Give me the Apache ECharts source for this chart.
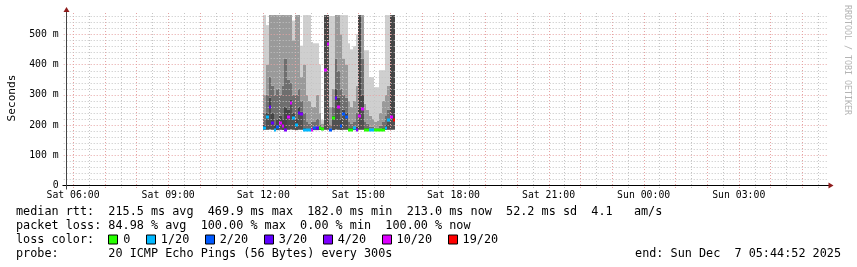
<!DOCTYPE html>
<html><head><meta charset="utf-8">
<script src="https://cdn.jsdelivr.net/npm/echarts@6/dist/echarts.min.js"></script>
<style>html,body{margin:0;padding:0;background:#fff}#c{width:857px;height:267px}</style>
</head><body><div id="c"></div>
<script>
const MONO = '"DejaVu Sans Mono", monospace';
// x axis in hours since Sat 00:00
const xMin = 5.8, xMax = 29.8;
const yMax = 570;
const xTickHours = [6, 9, 12, 15, 18, 21, 24, 27];
const xTickLabels = ['Sat 06:00', 'Sat 09:00', 'Sat 12:00', 'Sat 15:00', 'Sat 18:00', 'Sat 21:00', 'Sun 00:00', 'Sun 03:00'];
const yTickValues = [0, 100, 200, 300, 400, 500];
const yTickLabels = ['0', '100 m', '200 m', '300 m', '400 m', '500 m'];

// 5-minute slots (end time), values in ms
const slotEnd = ['12:05','12:10','12:15','12:20','12:25','12:30','12:35','12:40','12:45','12:50',
  '12:55','13:00','13:05','13:10','13:15','13:20','13:25','13:30','13:35','13:40',
  '13:45','13:50','13:55','14:00','14:05','14:10','14:15','14:20','14:25','14:30',
  '14:35','14:40','14:45','14:50','14:55','15:00','15:05','15:10','15:15','15:20',
  '15:25','15:30','15:35','15:40','15:45','15:50','15:55','16:00','16:05','16:10'];
const pingMin = [184,184,185,184,182,183,184,183,182,184, 185,184,183,184,184,182,182,182,182,183,
  183,183,183,184,184,182,183,185,184,183, 184,184,182,182,183,182,184,184,182,182,
  182,182,182,182,182,182,183,184,184,184];
const median = [189,227,260,207,183,194,207,196,185,225, 271,222,200,240,236,183,183,183,185,189,
  189,189,186,381,469,185,222,288,260,196, 236,227,185,185,189,185,229,252,185,185,
  185,185,185,185,183,184,189,216,227,216];
const p60 = [200,240,290,240,200,220,230,220,260,250, 285,240,220,260,245,190,186,186,190,195,
  195,192,188,563,563,188,230,320,290,220, 250,240,190,190,195,195,563,300,190,190,
  188,188,188,188,188,190,200,210,563,563];
const p75 = [240,300,360,330,300,320,300,330,420,350, 340,300,300,320,280,240,210,205,210,210,
  220,200,195,563,563,200,260,420,380,320, 300,290,210,205,210,240,563,420,210,205,
  195,195,192,192,198,210,230,250,563,563];
const p90 = [300,400,563,563,563,563,563,563,563,563, 563,480,563,563,360,400,300,280,260,260,
  300,240,205,563,563,260,320,563,563,500, 420,400,280,260,280,330,563,563,270,250,
  230,220,210,215,240,280,300,330,563,563];
const pingMax = [563,530,563,563,563,563,563,563,563,563, 563,545,563,563,462,563,563,563,474,470,
  470,400,216,563,563,560,560,563,563,563, 563,563,470,450,460,500,563,563,447,447,
  358,358,325,325,381,381,563,563,563,563];
const lossCount = [1,1,3,3,1,2,10,10,4,10, 10,1,1,3,4,1,1,1,10,2, 3,0,0,10,10,2,0,3,10,2,
  2,2,0,0,1,4,10,10,0,0, 1,1,0,0,0,0,1,1,10,19];

const lossLevels = [0, 1, 2, 3, 4, 10, 19];
const lossLabels = ['0', '1/20', '2/20', '3/20', '4/20', '10/20', '19/20'];
const lossColors = ['#26ff00', '#00b8ff', '#0059ff', '#5e00ff', '#7e00ff', '#dd00ff', '#ff0000'];
const smokeShades = ['#505050', '#464646', '#6e6e6e', '#9a9a9a', '#cfcfcf'];

const legendLines = [
  'median rtt:  215.5 ms avg  469.9 ms max  182.0 ms min  213.0 ms now  52.2 ms sd  4.1   am/s',
  'packet loss: 84.98 % avg  100.00 % max  0.00 % min  100.00 % now',
  'loss color:',
  'probe:       20 ICMP Echo Pings (56 Bytes) every 300s'
];
const endText = 'end: Sun Dec  7 05:44:52 2025';

function toHours(s) { const p = s.split(':'); return +p[0] + (+p[1]) / 60; }
function lossColor(n) { let c = lossColors[0]; lossLevels.forEach((l, i) => { if (n >= l) c = lossColors[i]; }); return c; }

const smokeData = slotEnd.map((s, i) => [toHours(s), pingMin[i], median[i], p60[i], p75[i], p90[i], pingMax[i]]);
const medianData = slotEnd.map((s, i) => [toHours(s), median[i], lossCount[i]]);

const vGrid = [];
for (let h = Math.ceil(xMin * 2) / 2; h < xMax; h += 0.5) vGrid.push([h, 0, Number.isInteger(h) ? 1 : 0]);
const hGrid = [];
for (let v = 20; v < yMax; v += 20) hGrid.push([xMin, v, v % 100 === 0 ? 1 : 0]);

const MAJOR = '#e6a3a3', MINOR = '#c4c4c4';

function slotX(api, t) {
  return [Math.round(api.coord([t - 1 / 12, 0])[0]), Math.round(api.coord([t, 0])[0])];
}

const chart = echarts.init(document.getElementById('c'), null, { renderer: 'canvas' });
chart.setOption({
  animation: false,
  backgroundColor: '#ffffff',
  grid: { left: 66.7, right: 29.5, top: 13, bottom: 81.5 },
  xAxis: {
    type: 'value', min: xMin, max: xMax,
    axisLine: { show: false }, axisTick: { show: false }, splitLine: { show: false },
    axisLabel: {
      customValues: xTickHours, margin: 5,
      fontFamily: MONO, fontSize: 9.8, color: '#000',
      formatter: v => { const i = xTickHours.indexOf(v); return i >= 0 ? xTickLabels[i] : ''; }
    }
  },
  yAxis: {
    type: 'value', min: 0, max: yMax, interval: 100,
    axisLine: { show: false }, axisTick: { show: false }, splitLine: { show: false },
    axisLabel: {
      margin: 8, fontFamily: MONO, fontSize: 9.8, color: '#000',
      formatter: v => { const i = yTickValues.indexOf(v); return i >= 0 ? yTickLabels[i] : ''; }
    }
  },
  series: [
    {
      type: 'custom', z: 1, data: smokeData, encode: { x: 0, y: 2 },
      renderItem: (params, api) => {
        const t = api.value(0);
        const [x0, x1] = slotX(api, t);
        const lv = [1, 2, 3, 4, 5, 6].map(k => api.value(k));
        const children = [];
        for (let k = 0; k < 5; k++) {
          if (lv[k + 1] > lv[k]) {
            const yt = api.coord([t, lv[k + 1]])[1], yb = api.coord([t, lv[k]])[1];
            children.push({ type: 'rect', shape: { x: x0, y: yt, width: x1 - x0, height: yb - yt },
              style: { fill: smokeShades[k] } });
          }
        }
        return { type: 'group', children };
      }
    },
    {
      type: 'custom', z: 2, data: vGrid, encode: { x: 0, y: 1 }, silent: true,
      renderItem: (params, api) => {
        const cs = params.coordSys;
        const x = Math.round(api.coord([api.value(0), 0])[0]) + 0.5;
        return { type: 'line', shape: { x1: x, y1: cs.y, x2: x, y2: cs.y + cs.height + 3 },
          style: { stroke: api.value(2) ? MAJOR : MINOR, lineWidth: 1, lineDash: [1, 2] } };
      }
    },
    {
      type: 'custom', z: 2, data: hGrid, encode: { x: 0, y: 1 }, silent: true,
      renderItem: (params, api) => {
        const cs = params.coordSys;
        const y = Math.round(api.coord([xMin, api.value(1)])[1]) + 0.5;
        return { type: 'line', shape: { x1: cs.x - 3, y1: y, x2: cs.x + cs.width, y2: y },
          style: { stroke: api.value(2) ? MAJOR : MINOR, lineWidth: 1, lineDash: [1, 2] } };
      }
    },
    {
      type: 'custom', z: 3, data: medianData, encode: { x: 0, y: 1 },
      renderItem: (params, api) => {
        const t = api.value(0);
        const [x0, x1] = slotX(api, t);
        const y = api.coord([t, api.value(1)])[1];
        return { type: 'rect', shape: { x: x0, y: Math.round(y) - 1.5, width: x1 - x0, height: 3 },
          style: { fill: lossColor(api.value(2)) } };
      }
    }
  ]
});

// decorations: axis lines with arrows, texts
const pO = chart.convertToPixel({ gridIndex: 0 }, [xMin, 0]);
const pE = chart.convertToPixel({ gridIndex: 0 }, [xMax, yMax]);
const ax = Math.floor(pO[0]) + 0.5, ay = Math.floor(pO[1]) + 0.5;
const ARROW = '#8e1b1b';
const g = [
  { type: 'line', shape: { x1: ax - 4, y1: ay, x2: pE[0] + 2, y2: ay }, style: { stroke: '#000', lineWidth: 1 }, z: 10 },
  { type: 'line', shape: { x1: ax, y1: ay + 4, x2: ax, y2: pE[1] - 2 }, style: { stroke: '#444', lineWidth: 1 }, z: 10 },
  { type: 'polygon', shape: { points: [[pE[0] + 1, ay - 3], [pE[0] + 6, ay], [pE[0] + 1, ay + 3]] }, style: { fill: ARROW }, z: 11 },
  { type: 'polygon', shape: { points: [[ax - 3, pE[1] - 1], [ax, pE[1] - 6], [ax + 3, pE[1] - 1]] }, style: { fill: ARROW }, z: 11 },
  { type: 'text', x: 12, y: 98, rotation: Math.PI / 2,
    style: { text: 'Seconds', font: '11.1px ' + MONO, fill: '#000', align: 'center', verticalAlign: 'middle' } },
  { type: 'text', x: 847, y: 60, rotation: -Math.PI / 2,
    style: { text: 'RRDTOOL / TOBI OETIKER', font: '8.3px ' + MONO, fill: '#b4b4b4', align: 'center', verticalAlign: 'middle' } }
];
const rowY = [211.5, 225.5, 239.5, 253.5];
const LF = '11.8px ' + MONO;
const cw = 7.1;
legendLines.forEach((t, i) => g.push({ type: 'text', x: 16, y: rowY[i],
  style: { text: t, font: LF, fill: '#000', align: 'left', verticalAlign: 'middle' } }));
g.push({ type: 'text', x: 841, y: rowY[3], style: { text: endText, font: LF, fill: '#000', align: 'right', verticalAlign: 'middle' } });
let col = 13.0;
lossLabels.forEach((lab, i) => {
  const bx = 16 + col * cw;
  g.push({ type: 'rect', shape: { x: Math.round(bx) + 0.5, y: rowY[2] - 4.5, width: 9, height: 9 },
    style: { fill: lossColors[i], stroke: '#000', lineWidth: 1 } });
  const tx = bx + 2.1 * cw;
  g.push({ type: 'text', x: tx, y: rowY[2], style: { text: lab, font: LF, fill: '#000', align: 'left', verticalAlign: 'middle' } });
  col = col + 2.1 + lab.length + 2.2;
});
chart.setOption({ graphic: g });
</script></body></html>
